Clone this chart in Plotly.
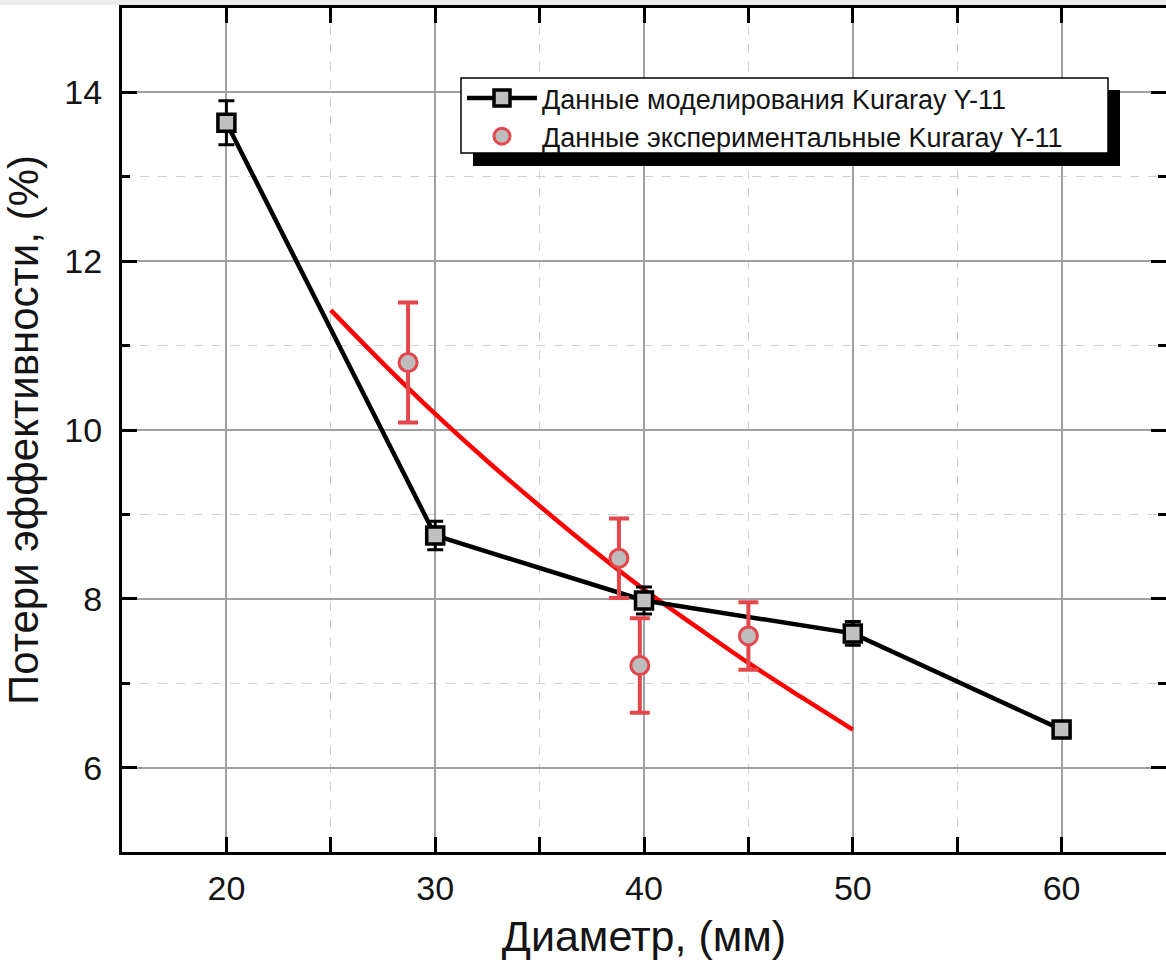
import plotly.graph_objects as go

# Simulation data (Kuraray Y-11)
sim_diameter = [20, 30, 40, 50, 60]
sim_loss = [13.64, 8.75, 7.98, 7.59, 6.45]
sim_err = [0.26, 0.17, 0.16, 0.14, 0.05]

# Experimental data (Kuraray Y-11)
exp_diameter = [28.7, 38.8, 39.8, 45.0]
exp_loss = [10.80, 8.48, 7.21, 7.56]
exp_err = [0.71, 0.47, 0.56, 0.40]

# Fitted curve through the experimental points
fit_diameter = [25, 27.5, 30, 32.5, 35, 37.5, 40, 42.5, 45, 47.5, 50]
fit_loss = [11.42, 10.79, 10.19, 9.63, 9.10, 8.59, 8.11, 7.67, 7.24, 6.84, 6.45]

# Axis ticks
x_ticks = [20, 30, 40, 50, 60]
y_ticks = [6, 8, 10, 12, 14]

FONT = "Liberation Sans, Arial, sans-serif"
TEXT = "#141414"
W, H = 1166, 973
ML, MR, MT, MB = 122, 0, 8, 121

pw = W - ML - MR
ph = H - MT - MB


def px_x(px):
    return (px - ML) / pw


def px_y(py):
    return 1 - (py - MT) / ph


fig = go.Figure()

fig.add_trace(go.Scatter(
    x=fit_diameter, y=fit_loss, mode="lines",
    line=dict(color="#ff0000", width=4.5, shape="spline"),
    showlegend=False, hoverinfo="skip",
))

fig.add_trace(go.Scatter(
    x=sim_diameter, y=sim_loss, mode="lines+markers",
    name="Данные моделирования Kuraray Y-11",
    line=dict(color="black", width=4.5),
    marker=dict(symbol="square", size=17, color="#c0c0c0",
                line=dict(color="black", width=3.5)),
    error_y=dict(type="data", array=sim_err, visible=True,
                 color="black", thickness=3, width=8),
))

fig.add_trace(go.Scatter(
    x=exp_diameter, y=exp_loss, mode="markers",
    name="Данные экспериментальные Kuraray Y-11",
    marker=dict(symbol="circle", size=18, color="#bdbdbd",
                line=dict(color="#e3474c", width=3)),
    error_y=dict(type="data", array=exp_err, visible=True,
                 color="#e3474c", thickness=4, width=10),
))

# Empty trace so the right-hand tick axis gets drawn
fig.add_trace(go.Scatter(x=[], y=[], yaxis="y2", showlegend=False, hoverinfo="skip"))

# Legend frame with a solid drop shadow
fig.add_shape(type="rect", xref="paper", yref="paper",
              x0=px_x(473), x1=px_x(1120), y0=px_y(166), y1=px_y(90),
              fillcolor="black", line=dict(width=0), layer="above")
fig.add_shape(type="rect", xref="paper", yref="paper",
              x0=px_x(461), x1=px_x(1108), y0=px_y(153), y1=px_y(78),
              fillcolor="white", line=dict(color="black", width=1.5), layer="above")

# Light page border strip along the top
fig.add_shape(type="rect", xref="paper", yref="paper",
              x0=px_x(0), x1=px_x(W), y0=px_y(5), y1=px_y(0),
              fillcolor="#ececec", line=dict(width=0), layer="below")

minor_x = dict(ticks="inside", ticklen=8, tickwidth=3, tickcolor="black",
               dtick=5, tick0=15, showgrid=True, gridcolor="#d0d0d0",
               gridwidth=1, griddash="dash")
minor_y = dict(ticks="inside", ticklen=8, tickwidth=3, tickcolor="black",
               dtick=1, tick0=5, showgrid=True, gridcolor="#d0d0d0",
               gridwidth=1, griddash="dash")

fig.update_layout(
    width=W, height=H,
    margin=dict(l=ML, r=MR, t=MT, b=MB),
    paper_bgcolor="white", plot_bgcolor="white",
    xaxis=dict(
        range=[15, 65], tickvals=x_ticks, ticktext=[str(v) for v in x_ticks],
        showline=True, linecolor="black", linewidth=3, mirror="allticks",
        ticks="inside", ticklen=15, tickwidth=3, tickcolor="black",
        showgrid=True, gridcolor="#a0a0a0", gridwidth=1.5, zeroline=False,
        minor=minor_x,
        tickfont=dict(family=FONT, size=34, color=TEXT),
        ticklabelstandoff=4,
        title=dict(text="Диаметр, (мм)",
                   font=dict(family=FONT, size=43, color=TEXT), standoff=16),
    ),
    yaxis=dict(
        range=[5, 15], tickvals=y_ticks, ticktext=[str(v) for v in y_ticks],
        showline=True, linecolor="black", linewidth=3, mirror=False,
        ticks="inside", ticklen=15, tickwidth=3, tickcolor="black",
        showgrid=True, gridcolor="#a0a0a0", gridwidth=1.5, zeroline=False,
        minor=minor_y,
        tickfont=dict(family=FONT, size=34, color=TEXT),
        ticklabelstandoff=10,
        title=dict(text="Потери эффективности, (%)",
                   font=dict(family=FONT, size=42, color=TEXT), standoff=14),
    ),
    yaxis2=dict(
        range=[5, 15], overlaying="y", side="right", anchor="x",
        tickvals=y_ticks, showticklabels=False, showline=False,
        ticks="inside", ticklen=15, tickwidth=3, tickcolor="black",
        showgrid=False, zeroline=False, minor=dict(minor_y, showgrid=False),
    ),
    legend=dict(
        x=px_x(462), y=px_y(74), xanchor="left", yanchor="top",
        bgcolor="rgba(0,0,0,0)", borderwidth=0,
        font=dict(family=FONT, size=27, color=TEXT),
        itemwidth=70, tracegroupgap=0,
    ),
)

fig.write_html("out.html")
